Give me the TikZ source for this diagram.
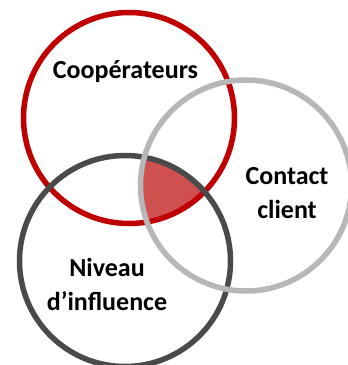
\documentclass[tikz,border=0pt]{standalone}
\usepackage{fontspec}
\setmainfont{Carlito}
\definecolor{ringred}{HTML}{C00000}
\definecolor{ringgray}{HTML}{B7B7B7}
\definecolor{ringdark}{HTML}{4A4A4A}
\definecolor{lensfill}{HTML}{D05050}
\tikzset{
  ring/.style={line width=5.5pt,fill=none},
  lbl/.style={font=\fontsize{26}{34}\selectfont\bfseries,text=black,align=center,inner sep=0pt}
}
\begin{document}
\begin{tikzpicture}[x=1pt,y=-1pt]
\useasboundingbox (0,0) rectangle (348,365);
\clip (0,0) rectangle (348,365);
\fill[white] (0,0) rectangle (348,365);
\coordinate (cr) at (129,118);
\coordinate (cg) at (246,185.5);
\coordinate (cd) at (125,261);
\begin{scope}
  \clip (cr) circle[radius=105.5];
  \clip (cg) circle[radius=105.5];
  \fill[lensfill] (cd) circle[radius=105.5];
\end{scope}
\draw[ring,ringred] (cr) circle[radius=105.5];
\draw[ring,ringdark] (cd) circle[radius=105.5];
\draw[ring,ringgray] (cg) circle[radius=105.5];
\node[lbl] (coop) at (125.5,72) {Coopérateurs};
\node[lbl] (contact) at (287,193.5) {Contact\\client};
\node[lbl] (niveau) at (107,284.5) {Niveau\\d’influence};
\end{tikzpicture}
\end{document}
